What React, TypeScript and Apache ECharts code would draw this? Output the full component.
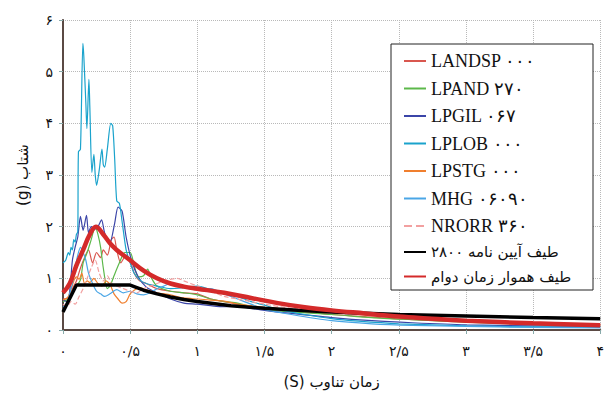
import React, { useEffect, useRef } from "react";
import * as echarts from "echarts";

const xTicks = [0, 0.5, 1, 1.5, 2, 2.5, 3, 3.5, 4];
const yTicks = [0, 1, 2, 3, 4, 5, 6];

const seriesNames = [
  "LANDSP ۰۰۰",
  "LPAND ۲۷۰",
  "LPGIL ۰۶۷",
  "LPLOB ۰۰۰",
  "LPSTG ۰۰۰",
  "MHG ۰۶۰۹۰",
  "NRORR ۳۶۰",
  "طیف آیین نامه ۲۸۰۰",
  "طیف هموار زمان دوام",
];

const seriesColors = ["#d9574f", "#5cb84a", "#3b45a8", "#1aa3cc", "#f07f2e", "#4aa6e6", "#f2a0a0", "#000000", "#d42a2a"];

const landsp = [[0,0.6],[0.04,0.62],[0.07,0.8],[0.1,0.95],[0.13,1.2],[0.16,1.4],[0.19,1.55],[0.22,1.3],[0.25,1.5],[0.28,1.4],[0.3,1.55],[0.33,1.45],[0.36,1.75],[0.38,1.8],[0.4,1.55],[0.43,1.3],[0.47,1.45],[0.5,1.35],[0.53,1.1],[0.57,0.95],[0.62,0.9],[0.7,0.8],[0.8,0.75],[0.9,0.72],[1.0,0.7],[1.1,0.6],[1.2,0.55],[1.3,0.5],[1.4,0.45],[1.5,0.42],[1.7,0.37],[2.0,0.3],[2.3,0.25],[2.6,0.2],[3,0.16],[3.5,0.12],[4,0.1]];
const lpand = [[0,0.55],[0.04,0.6],[0.08,0.75],[0.1,0.85],[0.13,0.97],[0.15,1.3],[0.18,1.5],[0.21,1.75],[0.24,2.0],[0.26,1.85],[0.28,1.6],[0.3,1.2],[0.33,0.8],[0.35,0.85],[0.38,1.05],[0.42,1.3],[0.46,1.5],[0.5,1.5],[0.53,1.25],[0.56,1.03],[0.6,1.05],[0.63,1.18],[0.66,1.0],[0.7,0.85],[0.8,0.75],[0.9,0.72],[1.0,0.68],[1.1,0.6],[1.2,0.55],[1.3,0.52],[1.4,0.45],[1.5,0.4],[1.7,0.35],[2.0,0.3],[2.3,0.24],[2.6,0.2],[3,0.15],[3.5,0.11],[4,0.08]];
const lpgil = [[0,0.58],[0.03,0.55],[0.05,0.75],[0.07,1.35],[0.09,1.6],[0.11,1.8],[0.13,2.2],[0.15,1.93],[0.175,2.22],[0.19,1.88],[0.21,2.0],[0.237,1.95],[0.26,2.0],[0.287,2.13],[0.31,1.88],[0.348,1.68],[0.385,2.07],[0.41,2.38],[0.44,2.3],[0.47,1.8],[0.51,1.35],[0.56,1.03],[0.62,0.83],[0.7,0.72],[0.8,0.6],[0.9,0.52],[1.0,0.5],[1.1,0.47],[1.2,0.45],[1.3,0.46],[1.4,0.42],[1.5,0.38],[1.7,0.32],[2.0,0.24],[2.3,0.18],[2.6,0.14],[3,0.1],[3.5,0.08],[4,0.07]];
const lplob = [[0,1.3],[0.02,1.35],[0.04,1.5],[0.05,1.45],[0.06,1.6],[0.07,1.55],[0.08,1.75],[0.09,1.7],[0.1,1.85],[0.11,1.9],[0.115,3.45],[0.13,3.5],[0.148,5.55],[0.155,5.3],[0.17,4.4],[0.178,3.9],[0.193,4.85],[0.2,4.3],[0.215,3.05],[0.23,3.4],[0.24,3.0],[0.25,2.8],[0.27,3.1],[0.29,3.5],[0.3,3.2],[0.31,3.15],[0.33,3.5],[0.356,4.0],[0.37,3.95],[0.385,3.3],[0.4,2.5],[0.42,2.45],[0.44,2.1],[0.47,1.55],[0.5,1.3],[0.53,1.1],[0.57,0.97],[0.62,0.9],[0.7,0.85],[0.8,0.8],[0.9,0.82],[1.0,0.85],[1.1,0.78],[1.2,0.72],[1.3,0.65],[1.4,0.55],[1.5,0.48],[1.6,0.4],[1.8,0.3],[2.0,0.22],[2.2,0.17],[2.5,0.12],[3,0.08],[3.5,0.06],[4,0.05]];
const lpstg = [[0,0.58],[0.03,0.62],[0.05,0.7],[0.08,0.95],[0.1,1.03],[0.12,0.98],[0.14,1.1],[0.16,0.9],[0.18,0.95],[0.2,0.92],[0.23,1.0],[0.26,0.9],[0.29,0.85],[0.32,0.95],[0.35,0.88],[0.38,0.7],[0.41,0.6],[0.44,0.52],[0.47,0.55],[0.5,0.7],[0.53,0.77],[0.57,0.82],[0.62,0.78],[0.7,0.72],[0.8,0.68],[0.9,0.62],[1.0,0.6],[1.1,0.58],[1.2,0.56],[1.3,0.5],[1.4,0.47],[1.5,0.44],[1.7,0.4],[2.0,0.34],[2.3,0.28],[2.6,0.23],[3,0.18],[3.5,0.14],[4,0.1]];
const mhg = [[0,0.45],[0.03,0.5],[0.05,0.7],[0.07,0.9],[0.09,1.2],[0.11,1.45],[0.13,1.6],[0.15,1.5],[0.17,1.35],[0.19,1.1],[0.22,0.9],[0.25,0.75],[0.28,0.7],[0.31,0.65],[0.35,0.7],[0.4,0.78],[0.45,0.72],[0.5,0.75],[0.55,0.7],[0.6,0.68],[0.65,0.72],[0.7,0.8],[0.75,0.85],[0.8,0.9],[0.85,0.88],[0.9,0.82],[1.0,0.78],[1.1,0.8],[1.2,0.7],[1.3,0.6],[1.4,0.5],[1.5,0.4],[1.7,0.3],[2.0,0.18],[2.3,0.12],[2.6,0.09],[3,0.07],[3.5,0.05],[4,0.04]];
const nrorr = [[0,0.5],[0.03,0.45],[0.06,0.55],[0.09,0.5],[0.12,0.65],[0.15,0.8],[0.18,1.0],[0.21,1.2],[0.24,1.35],[0.27,1.1],[0.3,0.95],[0.33,1.05],[0.36,0.9],[0.4,0.85],[0.45,0.8],[0.5,0.75],[0.55,0.72],[0.6,0.8],[0.65,0.85],[0.7,0.9],[0.75,0.95],[0.8,0.98],[0.85,1.0],[0.9,0.95],[1.0,0.85],[1.1,0.75],[1.2,0.65],[1.3,0.6],[1.4,0.55],[1.5,0.5],[1.7,0.42],[2.0,0.33],[2.3,0.27],[2.6,0.22],[3,0.17],[3.5,0.13],[4,0.1]];
const code2800 = [[0,0.35],[0.1,0.87],[0.5,0.87],[0.6,0.77],[0.7,0.7],[0.8,0.64],[0.9,0.59],[1.0,0.55],[1.25,0.47],[1.5,0.42],[1.75,0.38],[2.0,0.35],[2.5,0.3],[3.0,0.27],[3.5,0.24],[4.0,0.22]];
const smoothSpec = [[0,0.72],[0.05,0.9],[0.1,1.25],[0.15,1.55],[0.2,1.85],[0.245,2.0],[0.3,1.85],[0.35,1.68],[0.4,1.55],[0.5,1.35],[0.6,1.15],[0.7,1.0],[0.8,0.9],[0.9,0.84],[1.0,0.8],[1.2,0.72],[1.4,0.62],[1.6,0.52],[1.8,0.44],[2.0,0.38],[2.25,0.32],[2.5,0.26],[2.75,0.22],[3.0,0.18],[3.5,0.13],[4.0,0.09]];

const seriesData = [landsp, lpand, lpgil, lplob, lpstg, mhg, nrorr, code2800, smoothSpec];

const faDigits = "۰۱۲۳۴۵۶۷۸۹";
const toFa = (v: number) => String(v).replace(".", "/").replace(/\d/g, (d) => faDigits[+d]);

export default function App() {
  const ref = useRef<HTMLDivElement>(null);
  useEffect(() => {
    if (!ref.current) return;
    const chart = echarts.init(ref.current, undefined, { renderer: "svg" });
    const series: any[] = seriesData.map((d, i) => {
      const thick = i >= 7;
      return {
        name: seriesNames[i],
        type: "line",
        data: d,
        symbol: "none",
        smooth: i === 7 ? false : i === 8 ? 0.4 : 0.25,
        z: thick ? 5 + i : 2,
        lineStyle: {
          color: seriesColors[i],
          width: i === 7 ? 3.5 : i === 8 ? 4.5 : 1.2,
          type: i === 6 ? "dashed" : "solid",
        },
        itemStyle: { color: seriesColors[i] },
      };
    });
    chart.setOption({
      animation: false,
      backgroundColor: "#ffffff",
      grid: { left: 63, right: 4, top: 20, bottom: 64 },
      xAxis: [
        {
          type: "value",
          min: 0,
          max: 4,
          interval: 0.5,
          name: "\u202Bزمان تناوب (S)\u202C",
          nameLocation: "middle",
          nameGap: 44,
          nameTextStyle: { fontSize: 15, color: "#111", fontFamily: "DejaVu Sans" },
          axisLine: { show: true, onZero: false, lineStyle: { color: "#7b9fa5", width: 1.5 } },
          axisTick: { show: true, length: 4, lineStyle: { color: "#8aa" } },
          axisLabel: { margin: 14, fontSize: 14, color: "#111", fontFamily: "DejaVu Sans", formatter: (v: number) => (xTicks.includes(v) ? toFa(v) : "") },
          splitLine: { show: true, lineStyle: { color: "#b9b9b9", type: "dotted", width: 1 } },
        },
        {
          type: "value",
          position: "top",
          min: 0,
          max: 4,
          axisLine: { show: true, lineStyle: { color: "#5b4a44", width: 2 } },
          axisTick: { show: false },
          axisLabel: { show: false },
          splitLine: { show: false },
        },
      ],
      yAxis: [
        {
          type: "value",
          min: 0,
          max: 6,
          interval: 1,
          name: "\u202Bشتاب (g)\u202C",
          nameLocation: "middle",
          nameRotate: 90,
          nameGap: 33,
          nameTextStyle: { fontSize: 15, color: "#111", fontFamily: "DejaVu Sans" },
          axisLine: { show: true, onZero: false, lineStyle: { color: "#7b9fa5", width: 1.5 } },
          axisTick: { show: true, length: 4, lineStyle: { color: "#8aa" } },
          axisLabel: { margin: 10, fontSize: 14, color: "#111", fontFamily: "DejaVu Sans", formatter: (v: number) => (yTicks.includes(v) ? toFa(v) : "") },
          splitLine: { show: true, lineStyle: { color: "#b9b9b9", type: "dotted", width: 1 } },
        },
        {
          type: "value",
          position: "right",
          min: 0,
          max: 6,
          axisLine: { show: true, lineStyle: { color: "#5b4a44", width: 2 } },
          axisTick: { show: false },
          axisLabel: { show: false },
          splitLine: { show: false },
        },
      ],
      graphic: [
        {
          type: "rect",
          z: 3,
          shape: { x: 391, y: 44, width: 202, height: 246 },
          style: { fill: "#ffffff", stroke: "#222", lineWidth: 1 },
        },
      ],
      legend: {
        orient: "vertical",
        left: 403,
        top: 52,
        padding: 0,
        itemGap: 9.5,
        itemWidth: 22,
        itemHeight: 14,
        itemStyle: { opacity: 0 },
        data: seriesNames,
        formatter: (name: string) => (seriesNames.indexOf(name) >= 7 ? "{fa|" + name + "}" : "{la|" + name + "}"),
        textStyle: {
          color: "#111",
          rich: {
            la: { fontFamily: "Liberation Serif", fontSize: 18, lineHeight: 20, color: "#111" },
            fa: { fontFamily: "DejaVu Sans", fontSize: 15, lineHeight: 20, color: "#111" },
          },
        },
      },
      series,
    });
    return () => chart.dispose();
  }, []);
  return <div ref={ref} style={{ position: "absolute", left: 0, top: 0, width: 607, height: 394 }} />;
}
